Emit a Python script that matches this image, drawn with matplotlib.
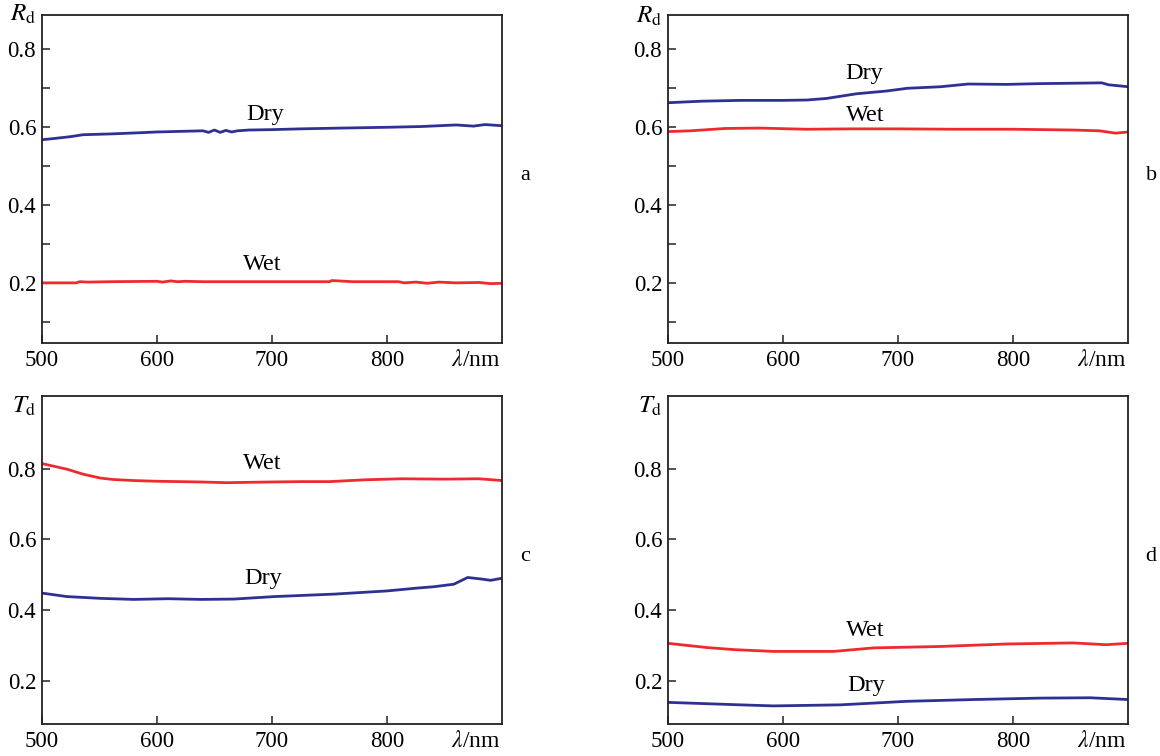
import matplotlib
matplotlib.use("Agg")
import matplotlib.pyplot as plt
from matplotlib.ticker import MultipleLocator, NullLocator

plt.rcParams['font.family'] = ['Liberation Serif', 'DejaVu Serif']
plt.rcParams['mathtext.fontset'] = 'stix'

# ---- data (wavelength in nm) ----
# panel a : R_d
wl_a_dry = [500, 510, 525, 536, 560, 585, 600, 640, 645, 650, 655, 660, 665, 670, 680, 700, 725, 760, 800, 830, 860, 875, 885, 900]
dry_a = [0.567, 0.570, 0.575, 0.580, 0.582, 0.585, 0.587, 0.590, 0.586, 0.592, 0.586, 0.591, 0.587, 0.590, 0.592, 0.593, 0.595, 0.597, 0.599, 0.601, 0.605, 0.602, 0.606, 0.603]
wl_a_wet = [500, 530, 533, 540, 560, 600, 605, 612, 618, 625, 640, 700, 750, 752, 770, 810, 815, 825, 835, 845, 860, 880, 890, 900]
wet_a = [0.200, 0.200, 0.203, 0.202, 0.203, 0.204, 0.202, 0.205, 0.203, 0.204, 0.203, 0.203, 0.203, 0.206, 0.203, 0.203, 0.200, 0.202, 0.199, 0.202, 0.200, 0.201, 0.198, 0.199]

# panel b : R_d
wl_b_dry = [500, 530, 563, 600, 621, 638, 664, 690, 708, 737, 761, 794, 823, 852, 877, 883, 900]
dry_b = [0.662, 0.666, 0.668, 0.668, 0.669, 0.673, 0.685, 0.692, 0.699, 0.703, 0.710, 0.709, 0.711, 0.712, 0.713, 0.708, 0.703]
wl_b_wet = [500, 520, 550, 580, 620, 660, 700, 750, 800, 852, 875, 889, 900]
wet_b = [0.588, 0.590, 0.596, 0.597, 0.594, 0.595, 0.595, 0.594, 0.594, 0.592, 0.590, 0.584, 0.587]

# panel c : T_d
wl_c_wet = [500, 503, 522, 536, 551, 562, 580, 600, 638, 660, 700, 725, 750, 780, 812, 850, 880, 900]
wet_c = [0.814, 0.812, 0.798, 0.784, 0.773, 0.769, 0.766, 0.764, 0.762, 0.760, 0.762, 0.763, 0.763, 0.768, 0.771, 0.770, 0.771, 0.766]
wl_c_dry = [500, 522, 551, 580, 610, 638, 667, 702, 754, 800, 826, 841, 858, 870, 881, 890, 900]
dry_c = [0.448, 0.438, 0.433, 0.430, 0.432, 0.430, 0.431, 0.438, 0.445, 0.454, 0.462, 0.466, 0.473, 0.492, 0.488, 0.484, 0.490]

# panel d : T_d
wl_d_wet = [500, 534, 558, 592, 644, 679, 737, 794, 852, 881, 900]
wet_d = [0.306, 0.294, 0.288, 0.283, 0.283, 0.293, 0.297, 0.304, 0.307, 0.302, 0.306]
wl_d_dry = [500, 563, 592, 650, 708, 766, 823, 867, 900]
dry_d = [0.139, 0.132, 0.129, 0.132, 0.142, 0.147, 0.151, 0.152, 0.147]

x_ticks = [500, 600, 700, 800]
y_ticks = [0.2, 0.4, 0.6, 0.8]

DRY = "#2e3192"
WET = "#ee2a2e"

fig = plt.figure(figsize=(11.6, 7.56), dpi=100)

W, H = 1160.0, 756.0
boxes = [
    (41.7, 343.3),    # a
    (667.7, 343.3),   # b
    (41.7, 724.3),    # c
    (667.7, 724.3),   # d
]
aw, ah = 460.5, 328.3

panels = [
    dict(ylab=r'$R_{\rm d}$', letter='a', ylim=(0.045, 0.887), minor=True,
         series=[(wl_a_dry, dry_a, DRY, 'Dry', 694, 0.631), (wl_a_wet, wet_a, WET, 'Wet', 692, 0.246)],
         ylab_y=0.982),
    dict(ylab=r'$R_{\rm d}$', letter='b', ylim=(0.045, 0.887), minor=True,
         series=[(wl_b_dry, dry_b, DRY, 'Dry', 671, 0.738), (wl_b_wet, wet_b, WET, 'Wet', 672, 0.628)],
         ylab_y=0.978),
    dict(ylab=r'$T_{\rm d}$', letter='c', ylim=(0.077, 1.005), minor=False,
         series=[(wl_c_wet, wet_c, WET, 'Wet', 692, 0.813), (wl_c_dry, dry_c, DRY, 'Dry', 692, 0.488)],
         ylab_y=0.950),
    dict(ylab=r'$T_{\rm d}$', letter='d', ylim=(0.077, 1.005), minor=False,
         series=[(wl_d_wet, wet_d, WET, 'Wet', 672, 0.342), (wl_d_dry, dry_d, DRY, 'Dry', 672, 0.186)],
         ylab_y=0.950),
]

for (lx, by), p in zip(boxes, panels):
    ax = fig.add_axes([lx / W, (H - by) / H, aw / W, ah / H])
    for xs, ys, col, name, tx, ty in p['series']:
        ax.plot(xs, ys, color=col, lw=2.0, solid_joinstyle='round')
        ax.text(tx, ty, name, ha='center', va='center', fontsize=17.5)

    ax.set_xlim(501, 900)
    ax.set_ylim(*p['ylim'])
    ax.set_xticks(x_ticks)
    ax.set_xticklabels([str(v) for v in x_ticks])
    ax.set_yticks(y_ticks)
    ax.set_yticklabels(['%.1f' % v for v in y_ticks])
    if p['minor']:
        ax.yaxis.set_minor_locator(MultipleLocator(0.2, offset=0.1))
    else:
        ax.yaxis.set_minor_locator(NullLocator())
    ax.xaxis.set_minor_locator(NullLocator())

    ax.tick_params(which='both', direction='in', top=False, right=False,
                   length=5.5, width=1.1, labelsize=16.5, color='#222222')
    ax.tick_params(axis='x', pad=5)
    ax.tick_params(axis='y', pad=4)
    for s in ax.spines.values():
        s.set_linewidth(1.3)
        s.set_color('#222222')

    ax.text(-0.012, p['ylab_y'], p['ylab'], transform=ax.transAxes,
            ha='right', va='baseline', fontsize=18)
    ax.annotate(r'$\lambda$/nm', xy=(1.0, 0.0), xycoords='axes fraction',
                xytext=(-1, -5), textcoords='offset points',
                ha='right', va='top', fontsize=17)
    ax.text(1.05, 0.51, p['letter'], transform=ax.transAxes,
            ha='center', va='center', fontsize=16)

fig.savefig('out.png', dpi=100)
